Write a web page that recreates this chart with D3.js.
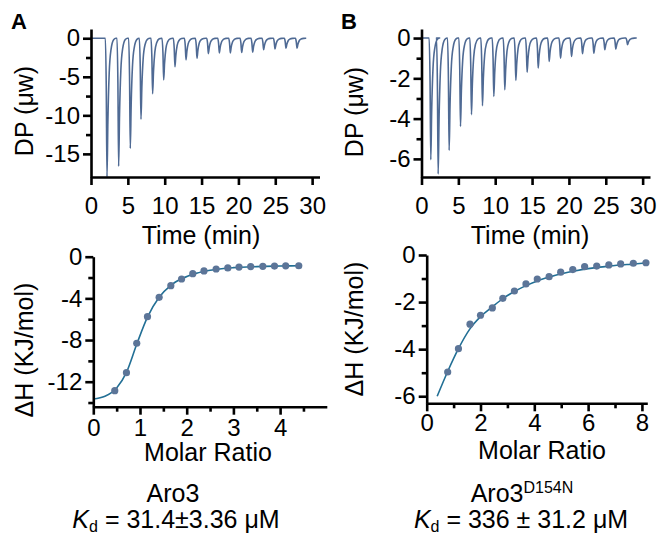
<!DOCTYPE html>
<html>
<head>
<meta charset="utf-8">
<script src="https://cdn.jsdelivr.net/npm/d3@7"></script>
<style>
  body { margin: 0; background: #fff; }
  svg { display: block; font-family: "Liberation Sans", Arial, sans-serif; }
</style>
</head>
<body>
<svg id="chart" width="660" height="535"></svg>
<script>
// ---- raw thermogram: injection times (min) and peak depths (µW) ----
const INJ_TIME_A = [2.17, 3.75, 5.33, 6.78, 8.36, 9.86, 11.39, 12.89, 14.38, 15.92, 17.41, 18.9, 20.44, 21.93, 23.42, 24.96, 26.45, 27.95];
const INJ_DEPTH_A = [-18, -16.6, -14.3, -10.5, -7.2, -5.4, -3.7, -2.8, -2.6, -2.0, -1.9, -1.9, -1.85, -1.8, -1.5, -1.4, -1.3, -1.3];

const INJ_TIME_B = [1.26, 2.26, 3.75, 5.29, 6.78, 8.27, 9.81, 11.3, 12.8, 14.33, 15.83, 17.32, 18.86, 20.35, 21.84, 23.38, 24.87, 26.36, 27.95];
const INJ_DEPTH_B = [-6.04, -6.75, -5.58, -4.39, -3.8, -3.36, -2.9, -2.57, -2.1, -1.7, -1.49, -1.16, -1.0, -0.91, -0.78, -0.75, -0.58, -0.55, -0.33];

const TRACE_END = 29.2;

// ---- integrated heats: molar ratio and ΔH (kJ/mol) ----
const RATIO_A = [0.46, 0.71, 0.93, 1.16, 1.41, 1.66, 1.89, 2.13, 2.37, 2.63, 2.88, 3.12, 3.37, 3.63, 3.88, 4.12, 4.4];
const DH_A = [-12.86, -11.13, -8.31, -5.76, -3.9, -2.78, -2.14, -1.63, -1.37, -1.18, -1.08, -1.0, -0.95, -0.92, -0.9, -0.88, -0.87];
const FIT_X_A = [0, 0.25, 0.5, 0.71, 0.93, 1.16, 1.41, 1.66, 1.9, 2.2, 2.5, 3.0, 3.5, 4.0, 4.4];
const FIT_Y_A = [-13.66, -13.4, -12.6, -11.1, -8.4, -5.8, -3.9, -2.75, -2.1, -1.6, -1.3, -1.05, -0.95, -0.9, -0.87];

const RATIO_B = [0.78, 1.18, 1.61, 2.0, 2.44, 2.83, 3.26, 3.69, 4.11, 4.55, 4.98, 5.43, 5.87, 6.32, 6.77, 7.21, 7.68, 8.15];
const DH_B = [-4.97, -3.98, -2.94, -2.56, -2.25, -1.84, -1.53, -1.23, -1.02, -0.92, -0.73, -0.62, -0.49, -0.47, -0.42, -0.38, -0.35, -0.33];
const FIT_X_B = [0.39, 0.78, 1.18, 1.6, 2.0, 2.44, 2.83, 3.26, 3.69, 4.11, 4.55, 5.0, 5.5, 6.0, 6.8, 7.6, 8.15];
const FIT_Y_B = [-6.0, -4.95, -3.98, -3.15, -2.62, -2.2, -1.85, -1.55, -1.3, -1.1, -0.94, -0.8, -0.68, -0.58, -0.47, -0.39, -0.34];

// ---- axis ticks ----
const TIME_TICKS = [0, 5, 10, 15, 20, 25, 30];
const DP_TICKS_A = [0, -5, -10, -15];
const DP_MINOR_A = [-2.5, -7.5, -12.5];
const DP_TICKS_B = [0, -2, -4, -6];
const DP_MINOR_B = [-1, -3, -5];
const RATIO_TICKS_A = [0, 1, 2, 3, 4];
const RATIO_MINOR_A = [0.5, 1.5, 2.5, 3.5, 4.5];
const DH_TICKS_A = [0, -4, -8, -12];
const DH_MINOR_A = [-2, -6, -10, -14];
const RATIO_TICKS_B = [0, 2, 4, 6, 8];
const RATIO_MINOR_B = [1, 3, 5, 7];
const DH_TICKS_B = [0, -2, -4, -6];
const DH_MINOR_B = [-1, -3, -5];

const TRACE_COLOR = "#4f6a94";
const FIT_COLOR = "#226f95";
const DOT_COLOR = "#5c7598";
const AXIS_W = 2.6;
const TICK_FONT = 24;
const TITLE_FONT = 25;

// relative shape of one injection peak: [dt (min), fraction of depth]
const PEAK_SHAPE = [[-0.22, 0], [-0.1, 0.35], [0, 1], [0.12, 0.6], [0.3, 0.25], [0.55, 0.08], [0.9, 0.01], [1.2, 0]];

const svg = d3.select("#chart");

function styleAxis(g) {
  g.select(".domain").attr("stroke", "#000").attr("stroke-width", AXIS_W);
  g.selectAll(".tick line").attr("stroke", "#000").attr("stroke-width", AXIS_W);
  g.selectAll(".tick text").attr("fill", "#000").attr("font-size", TICK_FONT);
}

function drawAxes(x, y, o) {
  const x0 = x.range()[0];
  const y0 = y.range()[0];

  const gx = svg.append("g").attr("transform", `translate(0,${y0})`)
    .call(d3.axisBottom(x).tickValues(o.xTicks).tickSize(8).tickSizeOuter(0)
      .tickPadding(o.xPad).tickFormat(d => String(d)));
  styleAxis(gx);
  if (o.xMinor) {
    const gm = svg.append("g").attr("transform", `translate(0,${y0})`)
      .call(d3.axisBottom(x).tickValues(o.xMinor).tickSize(5).tickFormat(""));
    gm.select(".domain").remove();
    styleAxis(gm);
  }

  const gy = svg.append("g").attr("transform", `translate(${x0},0)`)
    .call(d3.axisLeft(y).tickValues(o.yTicks).tickSize(8).tickSizeOuter(0)
      .tickPadding(o.yPad).tickFormat(d => String(d)));
  styleAxis(gy);
  if (o.yMinor) {
    const gm = svg.append("g").attr("transform", `translate(${x0},0)`)
      .call(d3.axisLeft(y).tickValues(o.yMinor).tickSize(5).tickFormat(""));
    gm.select(".domain").remove();
    styleAxis(gm);
  }

  svg.append("text")
    .attr("x", o.xTitlePos[0]).attr("y", o.xTitlePos[1])
    .attr("text-anchor", "middle").attr("font-size", TITLE_FONT)
    .text(o.xTitle);

  svg.append("text")
    .attr("transform", `translate(${o.yTitlePos[0]},${o.yTitlePos[1]}) rotate(-90)`)
    .attr("text-anchor", "middle").attr("font-size", TITLE_FONT)
    .text(o.yTitle);
}

function drawThermogram(times, depths, x, y) {
  const pts = [[0, 0]];
  times.forEach((t, i) => {
    PEAK_SHAPE.forEach(([dt, f]) => pts.push([t + dt, depths[i] * f]));
  });
  pts.push([TRACE_END, 0]);

  svg.append("path")
    .datum(pts)
    .attr("fill", "none")
    .attr("stroke", TRACE_COLOR)
    .attr("stroke-width", 1.6)
    .attr("stroke-linejoin", "round")
    .attr("d", d3.line().x(d => x(d[0])).y(d => y(d[1])).curve(d3.curveMonotoneX));
}

function drawIsotherm(rx, dh, fx, fy, x, y) {
  svg.append("path")
    .datum(d3.zip(fx, fy))
    .attr("fill", "none")
    .attr("stroke", FIT_COLOR)
    .attr("stroke-width", 1.6)
    .attr("d", d3.line().x(d => x(d[0])).y(d => y(d[1])).curve(d3.curveMonotoneX));

  svg.append("g")
    .selectAll("circle")
    .data(d3.zip(rx, dh))
    .join("circle")
    .attr("cx", d => x(d[0]))
    .attr("cy", d => y(d[1]))
    .attr("r", 3.6)
    .attr("fill", DOT_COLOR);
}

// ---- panel A, thermogram ----
const xTA = d3.scaleLinear().domain([0, 31]).range([91, 319.5]);
const yTA = d3.scaleLinear().domain([-18, 1.2]).range([177, 29]);
drawThermogram(INJ_TIME_A, INJ_DEPTH_A, xTA, yTA);
drawAxes(xTA, yTA, {
  xTicks: TIME_TICKS, yTicks: DP_TICKS_A, yMinor: DP_MINOR_A,
  xPad: 12, yPad: 3,
  xTitle: "Time (min)", xTitlePos: [201, 244],
  yTitle: "DP (\u03bcw)", yTitlePos: [33, 111]
});

// ---- panel B, thermogram ----
const xTB = d3.scaleLinear().domain([0, 31]).range([421.5, 650]);
const yTB = d3.scaleLinear().domain([-6.9, 0.45]).range([177, 29]);
drawThermogram(INJ_TIME_B, INJ_DEPTH_B, xTB, yTB);
drawAxes(xTB, yTB, {
  xTicks: TIME_TICKS, yTicks: DP_TICKS_B, yMinor: DP_MINOR_B,
  xPad: 12, yPad: 3,
  xTitle: "Time (min)", xTitlePos: [530, 244],
  yTitle: "DP (\u03bcw)", yTitlePos: [363, 112]
});

// ---- panel A, isotherm ----
const xIA = d3.scaleLinear().domain([0, 5]).range([93.3, 326.8]);
const yIA = d3.scaleLinear().domain([-14.4, 0]).range([406.7, 256.7]);
drawIsotherm(RATIO_A, DH_A, FIT_X_A, FIT_Y_A, xIA, yIA);
drawAxes(xIA, yIA, {
  xTicks: RATIO_TICKS_A, xMinor: RATIO_MINOR_A, yTicks: DH_TICKS_A, yMinor: DH_MINOR_A,
  xPad: 4, yPad: 3,
  xTitle: "Molar Ratio", xTitlePos: [208, 461],
  yTitle: "\u0394H (KJ/mol)", yTitlePos: [33, 350]
});

// ---- panel B, isotherm ----
const xIB = d3.scaleLinear().domain([0, 8.2]).range([426.7, 647.3]);
const yIB = d3.scaleLinear().domain([-6.3, 0]).range([403.3, 255]);
drawIsotherm(RATIO_B, DH_B, FIT_X_B, FIT_Y_B, xIB, yIB);
drawAxes(xIB, yIB, {
  xTicks: RATIO_TICKS_B, xMinor: RATIO_MINOR_B, yTicks: DH_TICKS_B, yMinor: DH_MINOR_B,
  xPad: 3, yPad: 3,
  xTitle: "Molar Ratio", xTitlePos: [542, 459],
  yTitle: "\u0394H (KJ/mol)", yTitlePos: [363, 329]
});

// ---- panel letters ----
svg.append("text").attr("x", 11).attr("y", 29).attr("font-size", 22).attr("font-weight", 700).text("A");
svg.append("text").attr("x", 341).attr("y", 29).attr("font-size", 22).attr("font-weight", 700).text("B");

// ---- captions ----
svg.append("text").attr("x", 173).attr("y", 502).attr("text-anchor", "middle")
  .attr("font-size", TITLE_FONT).text("Aro3");

const capB = svg.append("text").attr("x", 522).attr("y", 502).attr("text-anchor", "middle")
  .attr("font-size", TITLE_FONT);
capB.append("tspan").text("Aro3");
capB.append("tspan").attr("font-size", 16).attr("dy", -9).text("D154N");

function kdLine(cx, value) {
  const t = svg.append("text").attr("x", cx).attr("y", 528).attr("text-anchor", "middle")
    .attr("font-size", TITLE_FONT);
  t.append("tspan").attr("font-style", "italic").text("K");
  t.append("tspan").attr("font-size", 16).attr("dy", 4).text("d");
  t.append("tspan").attr("dy", -4).text(value);
}
kdLine(176, " = 31.4\u00b13.36 \u03bcM");
kdLine(521, " = 336 \u00b1 31.2 \u03bcM");
</script>
</body>
</html>
